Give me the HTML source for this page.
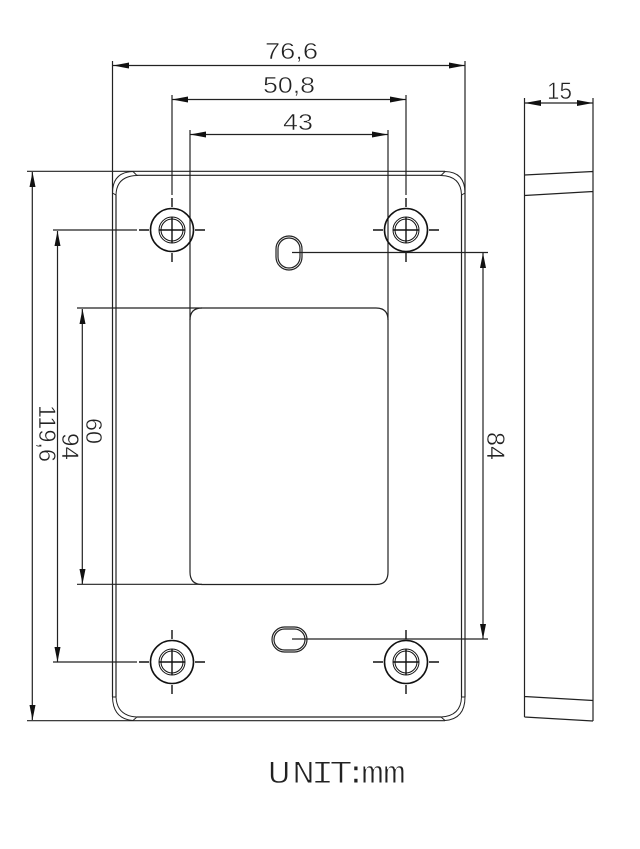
<!DOCTYPE html>
<html>
<head>
<meta charset="utf-8">
<style>
html,body{margin:0;padding:0;background:#fff}
svg{display:block}
text{font-family:"Liberation Sans",sans-serif;fill:#222;stroke:#fff;stroke-width:.5}
</style>
</head>
<body>
<svg width="640" height="849" viewBox="0 0 640 849" xmlns="http://www.w3.org/2000/svg">
<rect width="640" height="849" fill="#fff"/>
<g fill="none" stroke="#222" stroke-width="1.2">
  <!-- dimension lines -->
  <path d="M113 65.500H465M172 99.500H406M190 134.500H388M524 103H593"/>
  <path d="M32.300 172V720M57.500 231V662M82.300 309V584M483 253V639"/>
  <!-- extension lines -->
  <path d="M112.500 61V193M465 61V193M172 95V195M406 95V195M190 130V320M388 130V320"/>
  <path d="M524.500 98V175M593 98V171.500"/>
  <path d="M27 171.300H445M53 230H137M77 308H376M77 584.300H202M53 662H137M27 720.700H445"/>
  <path d="M292 252.500H488M292 639H488"/>
  <!-- plate body -->
  <path d="M137 175.300H441M116 195V697M461.500 195V697M137 717H441"/>
  <path d="M112.500 193V697M465 193V697"/>
  <path d="M112.500 193Q112.500 172 133 171.500L137 175.500Q116.500 176 116 195L112.500 193Z" stroke-width="1"/>
  <path d="M465 193Q465 172 445 171.500L441 175.500Q461 176 461.500 195L465 193Z" stroke-width="1"/>
  <path d="M112.500 697Q113 719 133 720.500L137 717Q117 716 116 697L112.500 697Z" stroke-width="1"/>
  <path d="M465 697Q465 719 445 720.500L441 717Q461 716 461.500 697L465 697Z" stroke-width="1"/>
  <!-- window -->
  <path d="M190 320Q190 308 202 308M388 320Q388 308 376 308M190 320V572Q190 584.500 202 584.500H376Q388 584.500 388 572V320"/>
  <!-- slots -->
  <rect x="276" y="236" width="26" height="34" rx="13" ry="13"/>
  <rect x="278" y="238" width="22" height="30" rx="11" ry="11"/>
  <rect x="272" y="627" width="35" height="25" rx="12.500" ry="12.500"/>
  <rect x="274" y="629" width="31" height="21" rx="10.500" ry="10.500"/>
  <!-- side view -->
  <path d="M524.500 175V717M593 171.500V721M524.500 175L593 171.500M524.500 195.500L593 191.500M524.500 696.500L593 700.500M524.500 717L593 721"/>
</g>
<defs>
  <g id="s" fill="none" stroke="#111">
    <circle r="21.500" stroke-width="1.600"/>
    <circle r="13" stroke-width="1"/>
    <circle r="11" stroke-width="1"/>
    <path d="M-13 0H13M0-13V13" stroke-width="1.400"/>
    <path d="M-33 0H-23M23 0H33M0-32V-23M0 23V32" stroke-width="1.400"/>
  </g>
</defs>
<use href="#s" x="172" y="230"/>
<use href="#s" x="406" y="230"/>
<use href="#s" x="172" y="662"/>
<use href="#s" x="406" y="662"/>
<!-- arrowheads -->
<g fill="#111">
  <path d="M113 65.500L129 62.500V68.500ZM465 65.500L449 62.500V68.500Z"/>
  <path d="M172 99.500L188 96.500V102.500ZM406 99.500L390 96.500V102.500Z"/>
  <path d="M190 134.500L206 131.500V137.500ZM388 134.500L372 131.500V137.500Z"/>
  <path d="M524.500 103L541 100V106ZM593 103L577 100V106Z"/>
  <path d="M32.500 172L29.500 187H35.500ZM32.500 720L29.500 705H35.500Z"/>
  <path d="M57.500 231L54.500 246H60.500ZM57.500 662L54.500 647H60.500Z"/>
  <path d="M82.500 309L79.500 324H85.500ZM82.500 584L79.500 569H85.500Z"/>
  <path d="M483 253L480 268H486ZM483 639L480 624H486Z"/>
</g>
<!-- labels -->
<text x="265" y="59" font-size="23" textLength="53" lengthAdjust="spacingAndGlyphs">76,6</text>
<text x="263" y="93" font-size="23" textLength="52" lengthAdjust="spacingAndGlyphs">50,8</text>
<text x="283" y="130" font-size="23" textLength="30" lengthAdjust="spacingAndGlyphs">43</text>
<text x="547" y="99" font-size="24" textLength="25" lengthAdjust="spacingAndGlyphs">15</text>
<text transform="translate(39 405) rotate(90)" font-size="24" textLength="57" lengthAdjust="spacingAndGlyphs">119,6</text>
<text transform="translate(62 433) rotate(90)" font-size="24" textLength="27" lengthAdjust="spacingAndGlyphs">94</text>
<text transform="translate(86 418) rotate(90)" font-size="23" textLength="26" lengthAdjust="spacingAndGlyphs">60</text>
<text transform="translate(487 432) rotate(90)" font-size="25" textLength="28" lengthAdjust="spacingAndGlyphs">84</text>
<text transform="translate(270 783) scale(1.2 1)" x="-2 18.300 34.200 49.600 62 75.800 94.100" y="0" font-size="32" style="font-family:'Liberation Mono',monospace;stroke-width:.9">UNIT:mm</text>
</svg>
</body>
</html>
